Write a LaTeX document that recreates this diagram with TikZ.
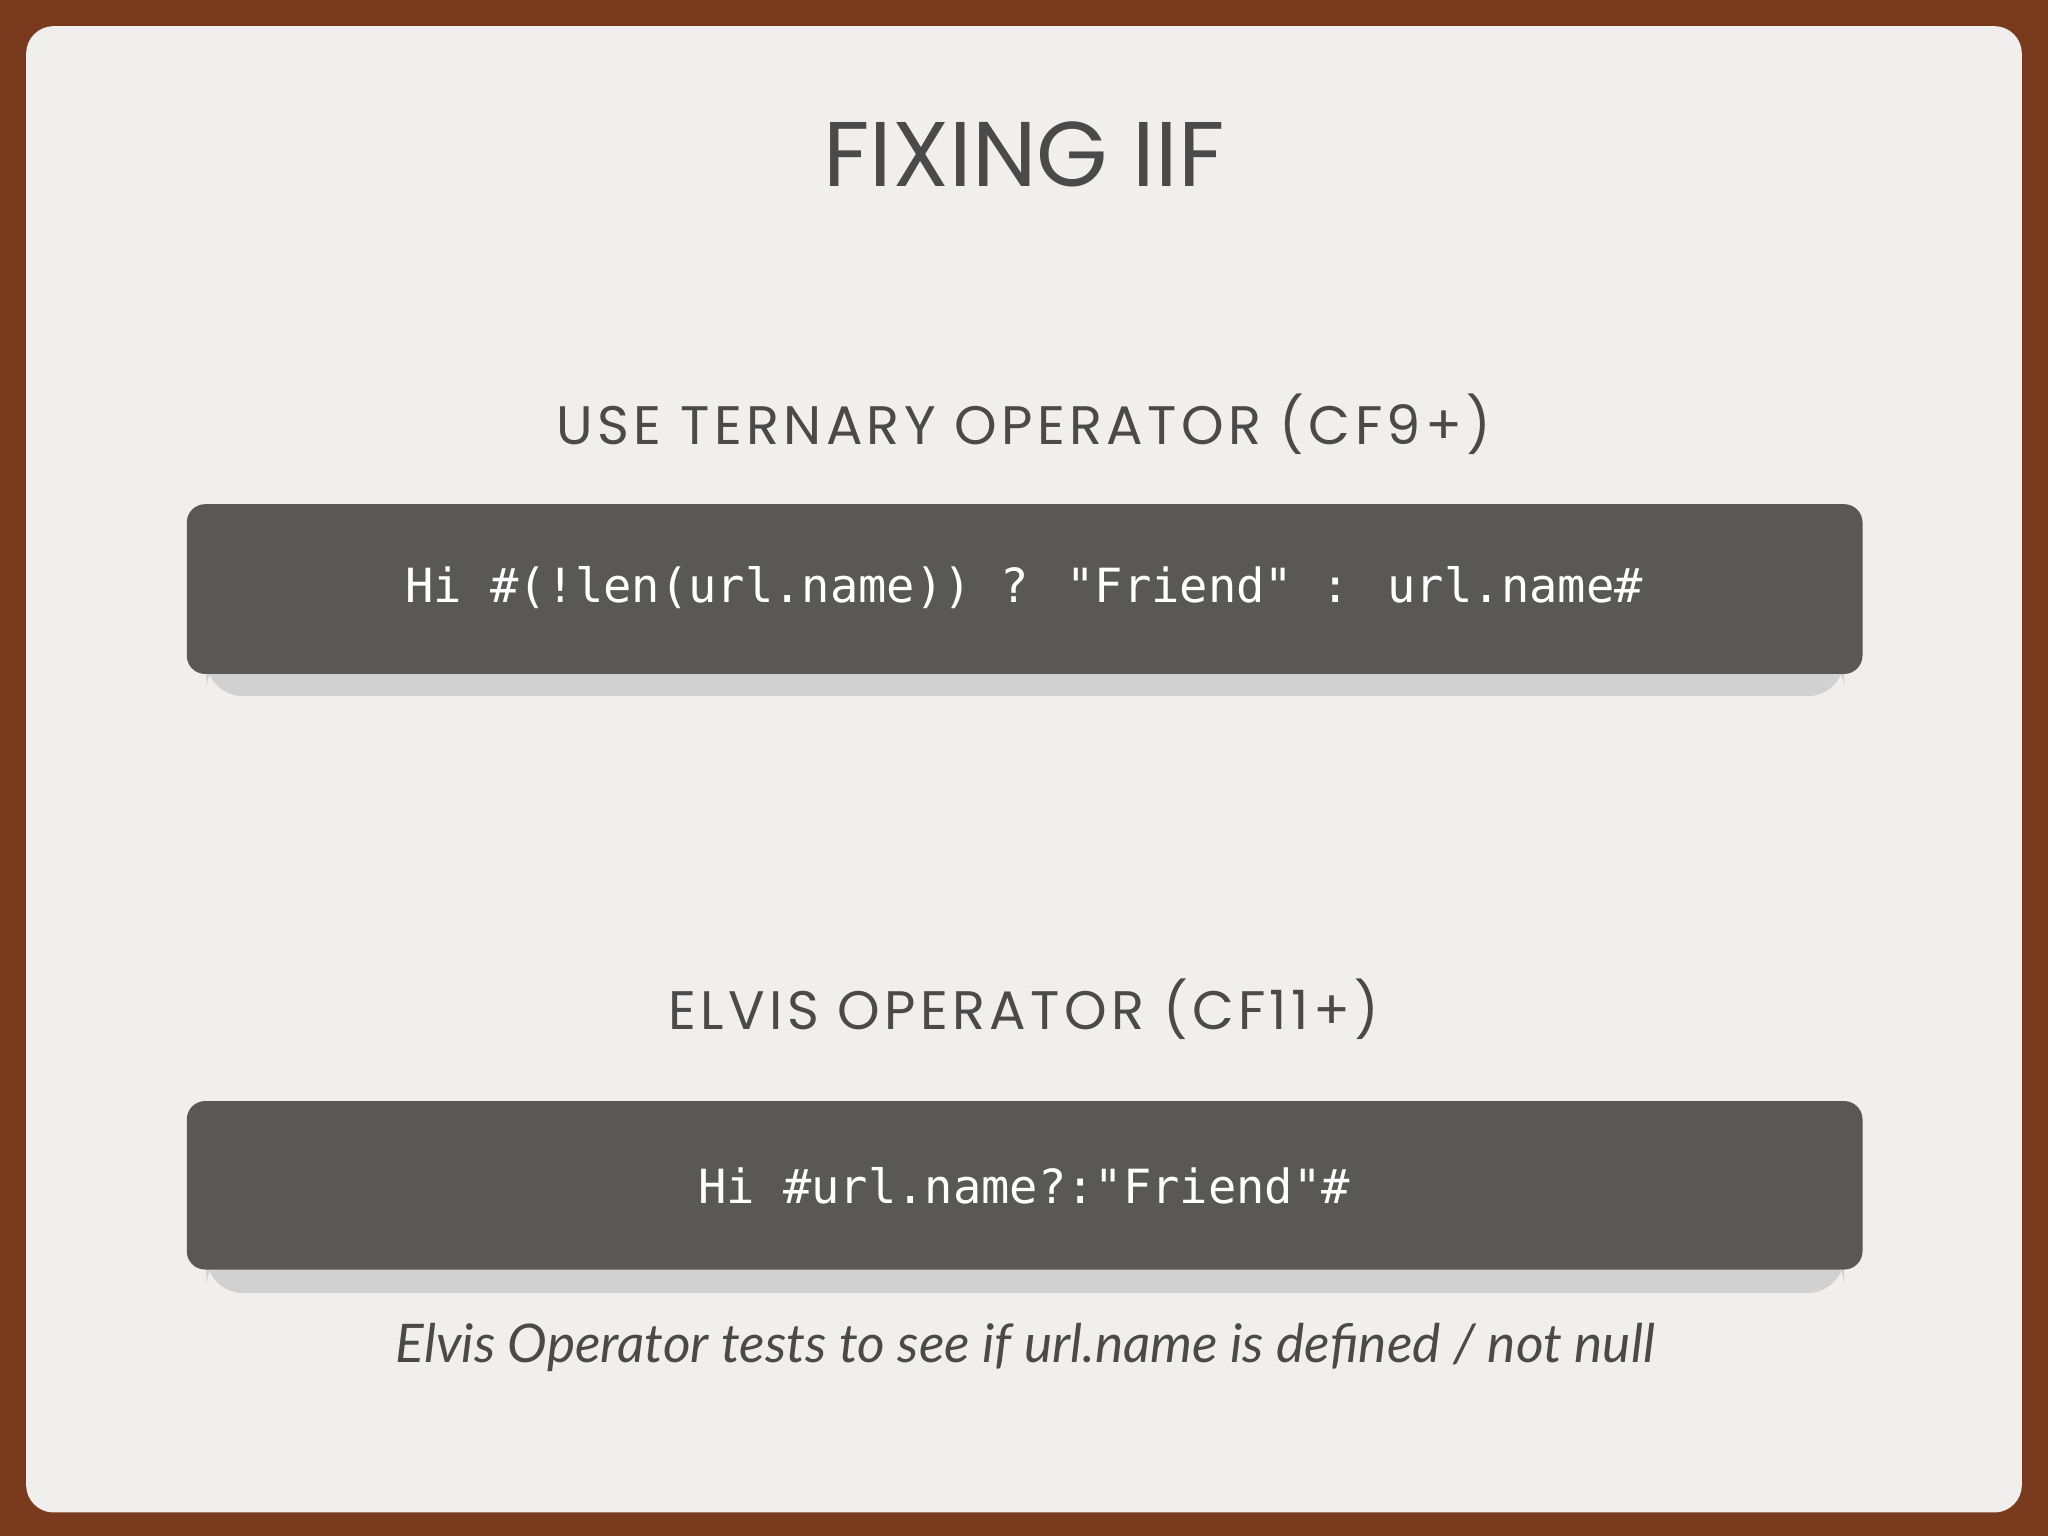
\documentclass[tikz,border=0pt]{standalone}
\usepackage{fontspec}
\setmainfont{Poppins}
\newfontfamily\headfont[LetterSpace=8]{Poppins}
\newfontfamily\codefont{DejaVu Sans Mono}
\newfontfamily\itfont{Lato}
\definecolor{frame}{HTML}{7A3A1E}
\definecolor{paper}{HTML}{F0EFED}
\definecolor{ink}{HTML}{4A4A4A}
\definecolor{codebg}{HTML}{5A5856}
\tikzset{
  codebox/.style={fill=codebg,rounded corners=4pt},
  shade/.style={fill=black!18,rounded corners=8pt},
  codetext/.style={text=white,font=\codefont\fontsize{10.25pt}{12pt}\selectfont},
  heading/.style={text=ink,font=\headfont\fontsize{11.8pt}{14pt}\selectfont},
}
\begin{document}
\begin{tikzpicture}[x=0.01cm,y=-0.01cm]
\fill[frame] (0,0) rectangle (1568,1176);
\fill[paper,rounded corners=6pt] (20,20) rectangle (1548,1158);
\useasboundingbox (0,0) rectangle (1568,1176);
\node[text=ink,font=\fontsize{20pt}{24pt}\selectfont] (title) at (784,118) {FIXING IIF};
\node[heading] (h1) at (784,325) {USE TERNARY OPERATOR (CF9+)};
\fill[shade] (158,500) rectangle (1412,533);
\fill[codebox] (143,386) rectangle (1426,516);
\node[codetext] (c1) at (784,450) {Hi \#(!len(url.name)) ? "Friend" : url.name\#};
\node[heading] (h2) at (784,773) {ELVIS OPERATOR (CF11+)};
\fill[shade] (158,957) rectangle (1412,990);
\fill[codebox] (143,843) rectangle (1426,972);
\node[codetext] (c2) at (784,908) {Hi \#url.name?:"Friend"\#};
\node[text=ink,font=\itfont\itshape\fontsize{11.6pt}{14pt}\selectfont] (note) at (785,1032) {Elvis Operator tests to see if url.name is defined / not null};
\end{tikzpicture}
\end{document}
